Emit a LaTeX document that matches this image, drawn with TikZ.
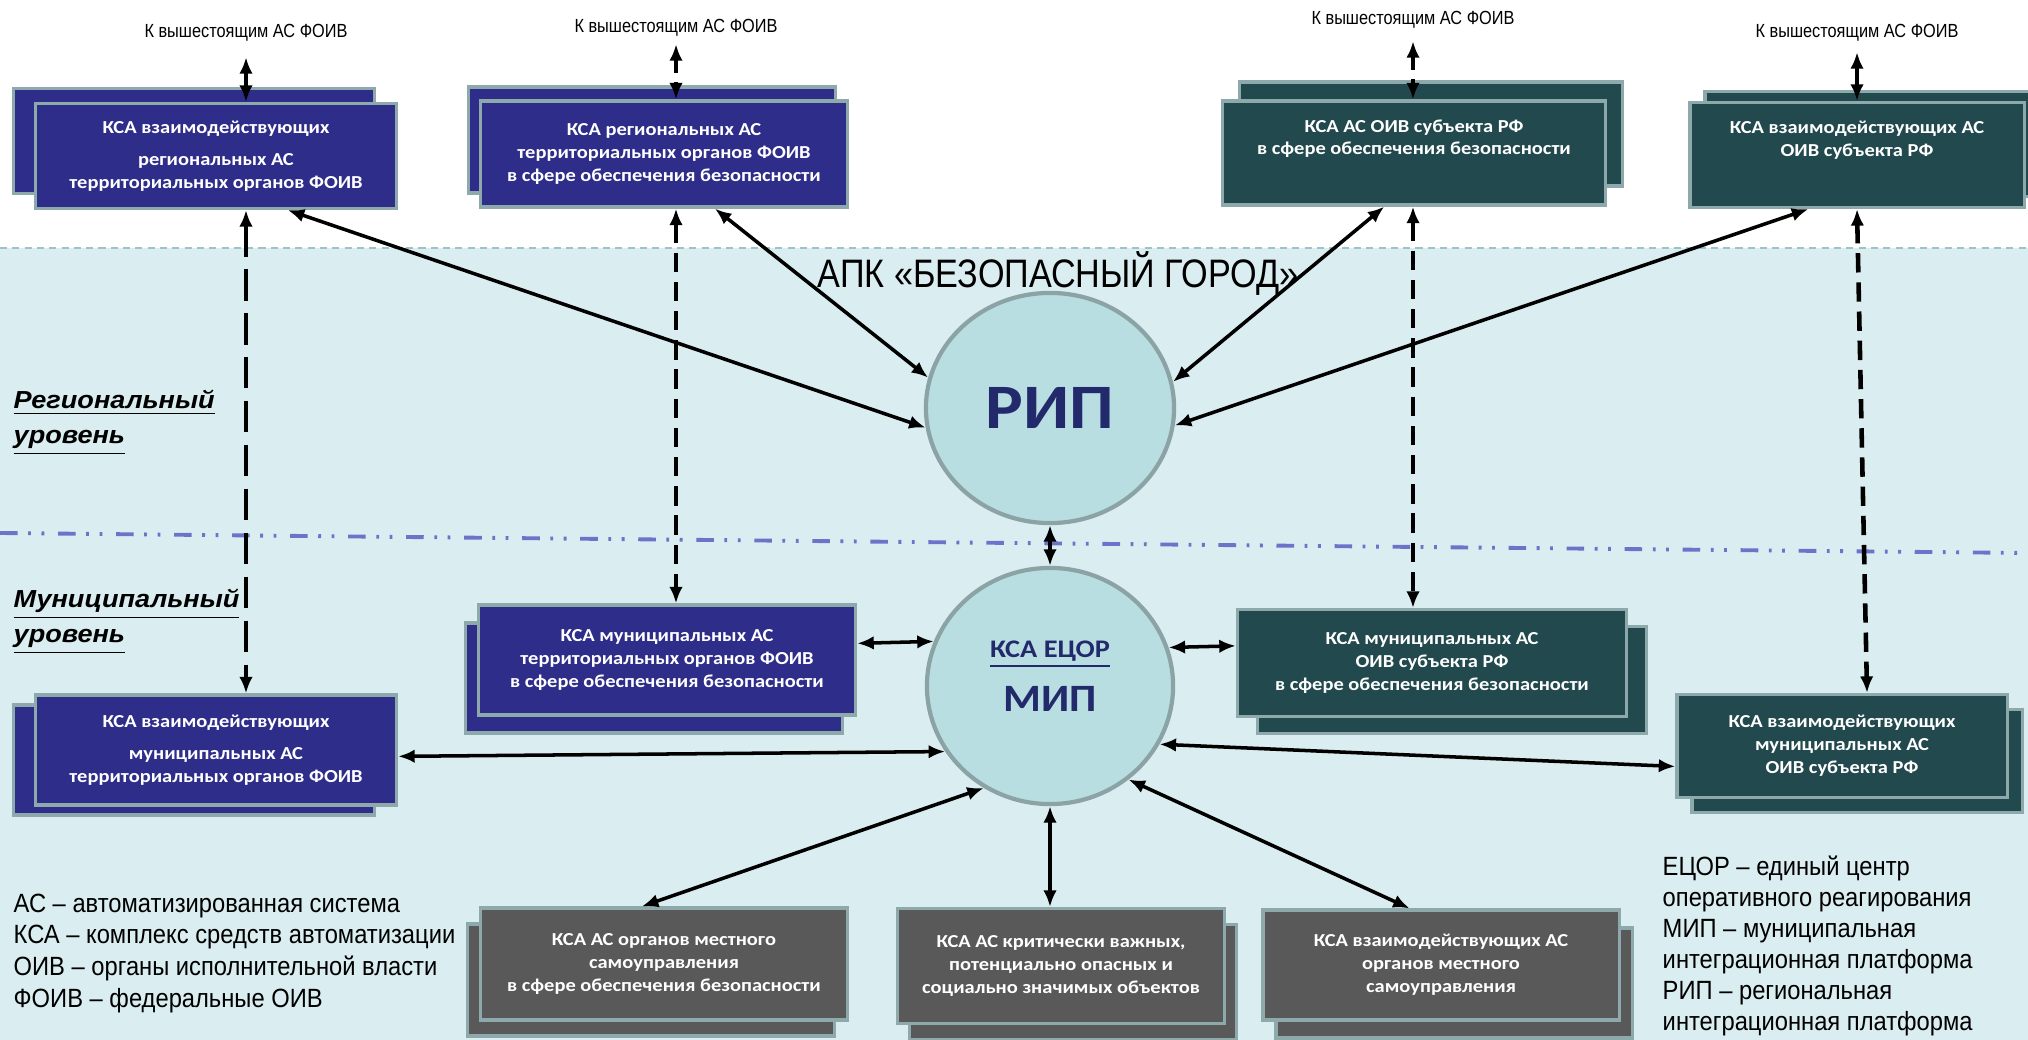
\documentclass[tikz,border=0pt]{standalone}
\usepackage{fontspec}
\setmainfont{Liberation Sans}
\newfontfamily\wideliber[FakeStretch=1.1]{Liberation Sans}
\newfontfamily\slimliber[FakeStretch=0.9]{Liberation Sans}
\newfontfamily\narrowliber[FakeStretch=0.86]{Liberation Sans}
\newfontfamily\kfont[FakeStretch=1.12]{Carlito}
\usetikzlibrary{arrows.meta,shapes.geometric,shadows}

\definecolor{kblue}{HTML}{2E2D8A}
\definecolor{kgreen}{HTML}{22494D}
\definecolor{kgray}{HTML}{595959}
\definecolor{boxedge}{HTML}{8EA9AB}
\definecolor{circfill}{HTML}{B8DEE2}
\definecolor{circedge}{HTML}{8CA3A5}
\definecolor{bgfill}{HTML}{DAEDF0}
\definecolor{navy}{HTML}{222A6C}
\definecolor{levelcol}{HTML}{6E72C9}
\definecolor{topline}{HTML}{9CC3C6}

\tikzset{
  kbox/.style={draw=boxedge, line width=0.9pt, text=white, align=center, inner sep=2pt,
    font=\kfont\bfseries\fontsize{5.2}{6.5}\selectfont},
  bluebox/.style={kbox, fill=kblue},
  greenbox/.style={kbox, fill=kgreen},
  graybox/.style={kbox, fill=kgray},
  platform/.style={ellipse, draw=circedge, line width=1.2pt, fill=circfill, inner sep=0pt, text=navy},
  link/.style={{Latex[length=1.65mm,width=1.35mm]}-{Latex[length=1.65mm,width=1.35mm]}, line width=1pt},
  dlink/.style={link, line width=1.3pt, dash pattern=on 5.5pt off 2.8pt},
  longdlink/.style={link, line width=1.3pt, dash pattern=on 9pt off 3.5pt},
  hdlink/.style={link, dash pattern=on 4pt off 2.5pt},
  hdr/.style={font=\narrowliber\fontsize{5.4}{6.5}\selectfont, inner sep=0pt},
  lvl/.style={font=\wideliber\bfseries\itshape\fontsize{7}{10}\selectfont, align=left, inner sep=0pt, anchor=west},
  legend/.style={font=\slimliber\fontsize{7.5}{9.05}\selectfont, align=left, inner sep=0pt, anchor=north west},
  levelline/.style={levelcol, line width=1.1pt, dash pattern=on 5pt off 3pt on 0.8pt off 3pt on 0.8pt off 3.9pt}
}

\begin{document}
\begin{tikzpicture}[x=0.01cm, y=-0.01cm]

    \useasboundingbox (0,0) rectangle (2028,1040);

    % Background of the two levels
    \fill[white] (0,0) rectangle (2028,248);
    \fill[bgfill] (0,248) rectangle (2028,1040);
    \draw[topline, line width=0.5pt, dash pattern=on 2pt off 1.5pt] (0,248) -- (2028,248);
    \draw[levelline] (0,533) -- (2028,553);

    % Labels of the levels
    \node[lvl] (reg) at (13,423) {\underline{Региональный}\\\underline{уровень}};
    \node[lvl] (mun) at (13,622) {\underline{Муниципальный}\\\underline{уровень}};

    % Top row
    \node[hdr] (h1) at (246,33) {К вышестоящим АС ФОИВ};
    \node[hdr] (h2) at (676,28) {К вышестоящим АС ФОИВ};
    \node[hdr] (h3) at (1413,20) {К вышестоящим АС ФОИВ};
    \node[hdr] (h4) at (1857,33) {К вышестоящим АС ФОИВ};

    \node[bluebox, minimum width=3.6cm, minimum height=1.05cm,
      copy shadow={shadow xshift=-0.22cm, shadow yshift=0.15cm}] (tl1) at (216,156)
      {КСА взаимодействующих\\[2.5pt] региональных АС\\ территориальных органов ФОИВ};
    \node[bluebox, minimum width=3.67cm, minimum height=1.06cm,
      copy shadow={shadow xshift=-0.12cm, shadow yshift=0.14cm}] (tl2) at (664,154)
      {КСА региональных  АС\\ территориальных органов ФОИВ\\ в сфере обеспечения безопасности};
    \node[greenbox, minimum width=3.83cm, minimum height=1.04cm, text depth=9pt,
      copy shadow={shadow xshift=0.17cm, shadow yshift=0.19cm}] (tr1) at (1414,153)
      {КСА АС ОИВ субъекта РФ\\ в сфере обеспечения безопасности};
    \node[greenbox, minimum width=3.34cm, minimum height=1.05cm, text depth=9pt,
      copy shadow={shadow xshift=0.15cm, shadow yshift=0.11cm}] (tr2) at (1857,155)
      {КСА взаимодействующих АС\\ ОИВ субъекта РФ};

    % Title and platforms
    \node[font=\narrowliber\fontsize{11.3}{13}\selectfont, inner sep=0pt] (apk) at (1058,274)
      {АПК «БЕЗОПАСНЫЙ ГОРОД»};
    \node[platform, minimum width=2.48cm, minimum height=2.30cm,
      font=\kfont\bfseries\fontsize{18}{20}\selectfont] (rip) at (1050,408) {РИП};
    \node[platform, minimum width=2.46cm, minimum height=2.36cm, align=center, text depth=5.7pt,
      font=\kfont\bfseries] (mip) at (1050,686)
      {{\fontsize{7.2}{9}\selectfont\underline{КСА ЕЦОР}}\\[3.5pt]{\fontsize{11}{12}\selectfont МИП}};

    % Municipal row
    \node[bluebox, minimum width=3.77cm, minimum height=1.10cm,
      copy shadow={shadow xshift=-0.13cm, shadow yshift=-0.18cm}] (ml) at (667,660)
      {КСА муниципальных АС\\ территориальных органов ФОИВ\\ в сфере обеспечения безопасности};
    \node[greenbox, minimum width=3.89cm, minimum height=1.07cm,
      copy shadow={shadow xshift=0.20cm, shadow yshift=-0.17cm}] (mr) at (1432,663)
      {КСА муниципальных  АС\\ ОИВ субъекта РФ\\ в сфере обеспечения безопасности};
    \node[bluebox, minimum width=3.61cm, minimum height=1.10cm,
      copy shadow={shadow xshift=-0.22cm, shadow yshift=-0.10cm}] (ll) at (216,750)
      {КСА взаимодействующих\\[2.5pt] муниципальных АС\\ территориальных органов ФОИВ};
    \node[greenbox, minimum width=3.30cm, minimum height=1.03cm,
      copy shadow={shadow xshift=0.15cm, shadow yshift=-0.15cm}] (rl) at (1842,746)
      {КСА взаимодействующих\\ муниципальных  АС\\ ОИВ субъекта РФ};

    % Bottom row
    \node[graybox, minimum width=3.67cm, minimum height=1.12cm,
      copy shadow={shadow xshift=-0.13cm, shadow yshift=-0.16cm}] (b1) at (664,964)
      {КСА  АС органов местного\\ самоуправления\\ в сфере обеспечения безопасности};
    \node[graybox, minimum width=3.27cm, minimum height=1.15cm,
      copy shadow={shadow xshift=0.12cm, shadow yshift=-0.16cm}] (b2) at (1061,966)
      {КСА  АС критически важных,\\ потенциально опасных и\\ социально значимых объектов};
    \node[graybox, minimum width=3.56cm, minimum height=1.10cm,
      copy shadow={shadow xshift=0.13cm, shadow yshift=-0.18cm}] (b3) at (1441,965)
      {КСА  взаимодействующих АС\\ органов местного\\ самоуправления};

    % Abbreviations
    \node[legend] (abbrl) at (13,893)
      {АС – автоматизированная система\\КСА – комплекс средств автоматизации\\ОИВ – органы исполнительной власти\\ФОИВ – федеральные ОИВ};
    \node[legend, font=\slimliber\fontsize{7.5}{8.8}\selectfont] (abbrr) at (1662,855)
      {ЕЦОР – единый центр\\оперативного реагирования\\МИП – муниципальная\\интеграционная платформа\\РИП – региональная\\интеграционная платформа};

    % Links to the higher systems
    \draw[link] ([yshift=-0.15cm]h1.south) -- (h1.south |- tl1.north);
    \draw[hdlink] ([yshift=-0.07cm]h2.south) -- (h2.south |- tl2.north);
    \draw[hdlink] ([yshift=-0.12cm]h3.south) -- (h3.south |- tr1.north);
    \draw[link] ([yshift=-0.1cm]h4.south) -- (h4.south |- tr2.north);

    % Vertical dashed links
    \draw[longdlink] (tl1.south -| h1) -- (ll.north -| h1);
    \draw[dlink] (tl2.south -| h2) -- (ml.north -| h2);
    \draw[dlink] (tr1.south -| h3) -- (mr.north -| h3);
    \draw[dlink] (tr2.south -| h4) -- ([xshift=0.1cm]rl.north -| h4);

    % Links to RIP
    \draw[link] (tl1.-37) -- (rip.189);
    \draw[link] (tl2.-47) -- (rip.166);
    \draw[link] (tr1.-119) -- (rip.12);
    \draw[link] (tr2.-132) -- (rip.-8);
    \draw[link] (rip.south) -- (rip.south |- mip.north);

    % Links to MIP
    \draw[link] (ml.5) -- (mip.159);
    \draw[link] (mr.175) -- (mip.18);
    \draw[link] (ll.-2) -- (mip.212);
    \draw[link] (mip.-28) -- (rl.187);
    \draw[link] (mip.237) -- (b1.111);
    \draw[link] (mip.south) -- (mip.south |- b2.north);
    \draw[link] (mip.-50) -- (b3.119);

\end{tikzpicture}
\end{document}
